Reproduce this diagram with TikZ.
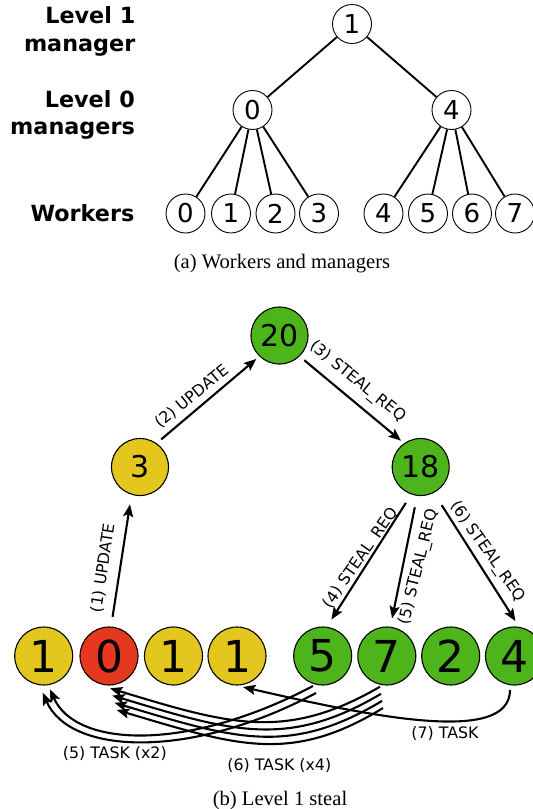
\documentclass[tikz,border=0pt]{standalone}
\usepackage{fontspec}
\setmainfont{Liberation Serif}
\newfontfamily\dejavu{DejaVu Sans}
\usetikzlibrary{arrows.meta,calc}
\definecolor{cyellow}{HTML}{E4C71E}
\definecolor{cgreen}{HTML}{4EB41C}
\definecolor{cred}{HTML}{E5381E}
\begin{document}
\begin{tikzpicture}[x=1pt,y=-1pt,
  tnode/.style={circle,draw,line width=0.9pt,minimum size=39pt,inner sep=0pt,font=\dejavu\fontsize{26}{26}\selectfont},
  tedge/.style={line width=1.9pt},
  lvl/.style={anchor=base east,inner sep=0pt,font=\dejavu\bfseries\fontsize{22.3}{22.3}\selectfont},
  captxt/.style={anchor=base,inner sep=0pt,font=\fontsize{20.6}{20.6}\selectfont},
  mnode/.style={circle,draw,line width=1.1pt,minimum size=57pt,inner sep=0pt,font=\dejavu\fontsize{30}{30}\selectfont},
  wnode/.style={circle,draw,line width=1.1pt,minimum size=58pt,inner sep=0pt,font=\dejavu\fontsize{44}{44}\selectfont},
  arr/.style={line width=2.1pt,-{Stealth[length=12.5pt,width=10pt,inset=2.5pt]}},
  lbl/.style={inner sep=0pt,font=\dejavu\fontsize{15.8}{15.8}\selectfont},
]
\useasboundingbox (0,0) rectangle (533,809);

% ---------- (a) ----------
\node[lvl] (t1a) at (135.5,23.8) {Level 1};
\node[lvl] (t1b) at (135.5,51) {manager};
\node[lvl] (t0a) at (135,107) {Level 0};
\node[lvl] (t0b) at (135,134.4) {managers};
\node[lvl] (tw)  at (134.5,221) {Workers};

\node[tnode] (L1) at (352,24) {1};
\node[tnode] (A0) at (252.5,110) {0};
\node[tnode] (A4) at (451.5,110) {4};
\node[tnode] (W0) at (185.5,213.5) {0};
\node[tnode] (W1) at (231,213.5) {1};
\node[tnode] (W2) at (275.5,213.5) {2};
\node[tnode] (W3) at (319,213.5) {3};
\node[tnode] (W4) at (383.5,213.5) {4};
\node[tnode] (W5) at (428,213.5) {5};
\node[tnode] (W6) at (472,213.5) {6};
\node[tnode] (W7) at (515,213.5) {7};

\draw[tedge] (L1) -- (A0);
\draw[tedge] (L1) -- (A4);
\foreach \w in {W0,W1,W2,W3} \draw[tedge] (A0) -- (\w);
\foreach \w in {W4,W5,W6,W7} \draw[tedge] (A4) -- (\w);

\node[captxt] (capa) at (282,268) {(a) Workers and managers};

% ---------- (b) ----------
\node[mnode,fill=cgreen]  (T20) at (279.5,335.5) {20};
\node[mnode,fill=cyellow] (M3)  at (140,467) {3};
\node[mnode,fill=cgreen]  (M18) at (420.7,467) {18};

\node[wnode,fill=cyellow] (B1) at (43.7,656) {1};
\node[wnode,fill=cred]    (B2) at (109,656) {0};
\node[wnode,fill=cyellow] (B3) at (173.5,656) {1};
\node[wnode,fill=cyellow] (B4) at (237,656) {1};
\node[wnode,fill=cgreen]  (B5) at (322.7,656) {5};
\node[wnode,fill=cgreen]  (B6) at (386.8,656) {7};
\node[wnode,fill=cgreen]  (B7) at (450.7,656) {2};
\node[wnode,fill=cgreen]  (B8) at (514.5,656) {4};

\draw[arr, shorten <=9.8pt, shorten >=9.6pt] (B2.86) -- (M3.253);
\draw[arr, shorten <=5.9pt, shorten >=3.9pt] (M3.55) -- (T20.226);
\draw[arr, shorten <=6pt, shorten >=3.9pt] (T20.314) -- (M18.125);
\draw[arr, shorten <=10pt, shorten >=8.5pt] (M18.251) -- (B5.82);
\draw[arr, shorten <=11.7pt, shorten >=8.4pt] (M18.263) -- (B6.83);
\draw[arr, shorten <=14.5pt, shorten >=6.8pt] (M18.297) -- (B8.81);

\node[lbl,rotate=81.5] (l1) at (103,568) {(1) UPDATE};
\node[lbl,rotate=39] (l2) at (191.7,396.7) {(2) UPDATE};
\node[lbl,rotate=-39] (l3) at (357.5,381.7) {(3) STEAL\_REQ};
\node[lbl,rotate=55] (l4) at (361,558.5) {(4) STEAL\_REQ};
\node[lbl,rotate=76] (l5) at (419,567) {(5) STEAL\_REQ};
\node[lbl,rotate=-55] (l6) at (487.5,551.7) {(6) STEAL\_REQ};

% (5) TASK x2 : B5 -> B1
\draw[arr] ($(B5.center)+(-9.7,30)$) .. controls +(-125,66) and +(26,58.7) .. ($(B1.center)+(6.3,33.3)$);
\draw[arr] ($(B5.center)+(-6.7,37)$) .. controls +(-126,67) and +(27.3,62.3) .. ($(B1.center)+(-1,36.7)$);

% (6) TASK x4 : B6 -> B2
\draw[arr] ($(B6.center)+(-6.8,30.7)$) .. controls +(-95,55.3) and +(118,35.7) .. ($(B2.center)+(1,32.3)$);
\draw[arr] ($(B6.center)+(-5.8,37.8)$) .. controls +(-94.3,55.9) and +(118.1,35.5) .. ($(B2.center)+(3.2,39.5)$);
\draw[arr] ($(B6.center)+(-4.8,44.9)$) .. controls +(-93.7,56.4) and +(118.2,35.2) .. ($(B2.center)+(5.5,46.8)$);
\draw[arr] ($(B6.center)+(-3.8,52)$) .. controls +(-93,57) and +(118.3,35) .. ($(B2.center)+(7.7,54)$);

% (7) TASK : B8 -> B4
\draw[arr] ($(B8.center)+(-4.5,34)$) .. controls +(0,55) and +(130,30) .. ($(B4.center)+(6,31)$);

\node[lbl] (l7)  at (445,734) {(7) TASK};
\node[lbl] (l5t) at (114.8,753.8) {(5) TASK (x2)};
\node[lbl] (l6t) at (279.3,765.4) {(6) TASK (x4)};

\node[captxt] (capb) at (280,805) {(b) Level 1 steal};
\end{tikzpicture}
\end{document}
